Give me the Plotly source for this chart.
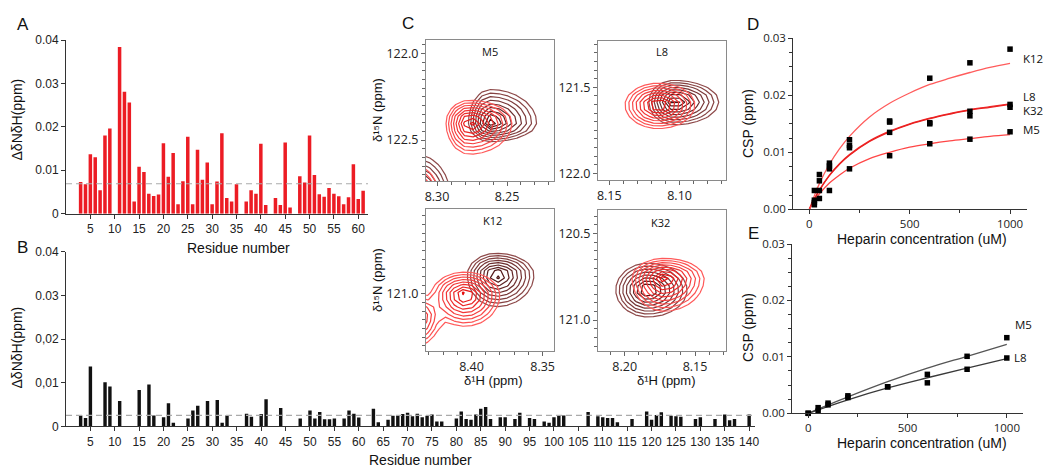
import numpy as np
import plotly.graph_objects as go

W, H = 1043, 467

# ---------------- Panel A : CSP per residue (heparin, red) ----------------
residues_A = [3, 4, 5, 6, 7, 8, 9,
              11, 12, 13, 14, 15, 16, 17, 18, 19, 20, 21, 22, 23, 24, 25, 26, 27, 28, 29, 30,
              31, 32, 33, 34, 35, 37, 38, 39, 40, 41, 43, 44, 45, 46,
              48, 49, 50, 51, 52, 53, 54, 55, 56, 57, 58, 59, 60, 61]
csp_A = [0.0073, 0.0068, 0.0137, 0.0130, 0.0054, 0.0180, 0.0196,
         0.0384, 0.0281, 0.0256, 0.0028, 0.0108, 0.0096, 0.0046, 0.0041, 0.0044, 0.0162, 0.0085,
         0.0140, 0.0022, 0.0075, 0.0177, 0.0022, 0.0147, 0.0078, 0.0118, 0.0022,
         0.0074, 0.0185, 0.0036, 0.0028, 0.0068, 0.0028, 0.0054, 0.0046, 0.0161, 0.0020,
         0.0036, 0.0020, 0.0164, 0.0014,
         0.0086, 0.0072, 0.0180, 0.0089, 0.0045, 0.0039, 0.0059, 0.0046, 0.0040, 0.0022,
         0.0038, 0.0114, 0.0034, 0.0053]
threshold_A = 0.0069
ticks_A = list(range(5, 61, 5))

# ---------------- Panel B : CSP per residue (black) ----------------
residues_B = [3, 4, 5, 8, 9, 11, 15, 17, 18, 20, 21, 22, 25, 26, 27, 29, 31, 32, 33,
              37, 38, 40, 41, 44, 48, 50, 51, 52, 53, 54, 55, 57, 58, 59, 60,
              63, 64, 66, 67, 68, 69, 70, 71, 72, 73, 74, 75, 76, 77,
              80, 81, 82, 83, 84, 85, 86, 87, 89, 90, 92, 93, 95, 96, 98, 99,
              100, 101, 102, 107, 109, 110, 111, 112, 113, 116,
              119, 120, 121, 122, 124, 125, 126, 129, 130, 133, 135, 136, 137, 140]
csp_B = [0.0025, 0.0019, 0.0137, 0.0101, 0.0091, 0.0058, 0.0083, 0.0096, 0.0025, 0.0021,
         0.0053, 0.0008, 0.0018, 0.0036, 0.0047, 0.0058, 0.0060, 0.0008, 0.0025,
         0.0029, 0.0022, 0.0028, 0.0062, 0.0042, 0.0018, 0.0036, 0.0018, 0.0033, 0.0016,
         0.0016, 0.0018, 0.0018, 0.0036, 0.0029, 0.0020,
         0.0040, 0.0009, 0.0015, 0.0024, 0.0024, 0.0028, 0.0031, 0.0023, 0.0029, 0.0021,
         0.0024, 0.0027, 0.0011, 0.0011,
         0.0018, 0.0034, 0.0017, 0.0015, 0.0027, 0.0040, 0.0044, 0.0017, 0.0021, 0.0021,
         0.0017, 0.0031, 0.0019, 0.0017, 0.0011, 0.0008,
         0.0021, 0.0025, 0.0025, 0.0033, 0.0023, 0.0021, 0.0019, 0.0019, 0.0009, 0.0017,
         0.0034, 0.0015, 0.0026, 0.0032, 0.0024, 0.0023, 0.0022, 0.0017, 0.0021, 0.0017,
         0.0027, 0.0014, 0.0017, 0.0027]
threshold_B = 0.0025
ticks_B = list(range(5, 141, 5))

# ---------------- Panel C : HSQC peaks ----------------
# (x0 1H ppm, y0 15N ppm, sx_high_ppm_side, sx_low_ppm_side, sy_top, sy_bottom, amplitude)
peaks_M5_free = [(8.262, 122.40, 0.0060, 0.0128, 0.074, 0.042, 1.0),
                 (8.3155, 122.815, 0.0095, 0.0095, 0.090, 0.090, 1.0)]
peaks_M5_bound = [(8.277, 122.40, 0.0064, 0.0118, 0.050, 0.070, 1.0),
                  (8.320, 122.840, 0.0085, 0.0085, 0.080, 0.080, 1.0)]
peaks_L8_free = [(8.104, 121.584, 0.0069, 0.0123, 0.048, 0.052, 1.0)]
peaks_L8_bound = [(8.115, 121.603, 0.0092, 0.0100, 0.049, 0.053, 1.0)]
peaks_K12_free = [(8.3825, 120.89, 0.0079, 0.0102, 0.048, 0.071, 1.0)]
peaks_K12_bound = [(8.4047, 121.006, 0.0090, 0.0095, 0.051, 0.070, 1.0),
                   (8.442, 121.13, 0.0080, 0.0080, 0.050, 0.070, 0.9)]
peaks_K32_free = [(8.1836, 120.827, 0.0088, 0.0108, 0.060, 0.060, 1.0)]
peaks_K32_bound = [(8.172, 120.760, 0.0088, 0.0110, 0.045, 0.073, 1.0)]

# ---------------- Panel D : titration ----------------
conc_D = [25, 50, 100, 200, 400, 600, 800, 1000]
csp_D_K12 = [0.0033, 0.0061, 0.0081, 0.0122, 0.0155, 0.0230, 0.0257, 0.0281]
csp_D_L8 = [0.0016, 0.0050, 0.0076, 0.0112, 0.0153, 0.0152, 0.0172, 0.0184]
csp_D_K32 = [0.0012, 0.0033, 0.0071, 0.0108, 0.0135, 0.0150, 0.0164, 0.0179]
csp_D_M5 = [0.0008, 0.0019, 0.0033, 0.0071, 0.0094, 0.0115, 0.0123, 0.0136]
fit_conc_D = [0, 25, 50, 100, 150, 200, 300, 400, 500, 600, 700, 800, 900, 1000]
fit_D_K12 = [0, 0.0024, 0.0045, 0.0079, 0.0106, 0.0128, 0.0162, 0.0186, 0.0204, 0.0219,
             0.0230, 0.0240, 0.0249, 0.0256]
fit_D_L8 = [0, 0.0018, 0.0034, 0.0060, 0.0080, 0.0096, 0.0120, 0.0137, 0.0150, 0.0160,
            0.0168, 0.0175, 0.0180, 0.0185]
fit_D_K32 = [0, 0.0018, 0.0033, 0.0059, 0.0079, 0.0095, 0.0119, 0.0136, 0.0149, 0.0159,
             0.0167, 0.0174, 0.0179, 0.0184]
fit_D_M5 = [0, 0.0015, 0.0027, 0.0046, 0.0060, 0.0072, 0.0089, 0.0100, 0.0109, 0.0115,
            0.0120, 0.0124, 0.0128, 0.0131]

# ---------------- Panel E ----------------
conc_E = [0, 50, 100, 200, 400, 600, 800, 1000]
csp_E_M5 = [0, 0.0010, 0.0018, 0.0031, 0.0047, 0.0069, 0.0101, 0.0134]
csp_E_L8 = [0, 0.0004, 0.0015, 0.0028, 0.0047, 0.0054, 0.0078, 0.0098]
fit_conc_E = [0, 200, 400, 600, 800, 1000]
fit_E_M5 = [0, 0.0029, 0.0056, 0.0080, 0.0101, 0.0122]
fit_E_L8 = [0, 0.0024, 0.0045, 0.0063, 0.0080, 0.0097]

# ============================================================
FA = "Liberation Sans, Arial, sans-serif"
FC = "Open Sans, Noto Sans, sans-serif"
RED = "#EC1C24"
DARK_CS = [[0, "#4a1212"], [1, "#8e4a4a"]]
RED_CS = [[0, "#e41010"], [1, "#ff5a5a"]]


def xd(a, b):
    return [a / W, b / W]


def yd(top, bottom):
    return [1 - bottom / H, 1 - top / H]


def P(px, py):
    return px / W, 1 - py / H


fig = go.Figure()

# ---- A bars
fig.add_trace(go.Bar(x=residues_A, y=csp_A, width=0.72, marker=dict(color=RED, line=dict(width=0)),
                     xaxis="x", yaxis="y", showlegend=False))
fig.add_trace(go.Scatter(x=[0, 62], y=[threshold_A, threshold_A], mode="lines",
                         line=dict(color="#aaaaaa", width=1.2, dash="6px,4px"),
                         xaxis="x", yaxis="y", showlegend=False, hoverinfo="skip"))
# ---- B bars
fig.add_trace(go.Bar(x=residues_B, y=csp_B, width=0.7, marker=dict(color="#111111", line=dict(width=0)),
                     xaxis="x2", yaxis="y2", showlegend=False))
fig.add_trace(go.Scatter(x=[0, 141.2], y=[threshold_B, threshold_B], mode="lines",
                         line=dict(color="#aaaaaa", width=1.2, dash="6px,4px"),
                         xaxis="x2", yaxis="y2", showlegend=False, hoverinfo="skip"))

# ---- C contours
c_panels = [
    ("x3", "y3", (8.3079, 8.2164), (122.736, 121.923), peaks_M5_free, peaks_M5_bound),
    ("x4", "y4", (8.158, 8.067), (122.039, 121.231), peaks_L8_free, peaks_L8_bound),
    ("x5", "y5", (8.432, 8.342), (121.33, 120.51), peaks_K12_free, peaks_K12_bound),
    ("x6", "y6", (8.219, 8.128), (121.177, 120.362), peaks_K32_free, peaks_K32_bound),
]


def peak_field(xg, yg, peaks):
    X, Y = np.meshgrid(xg, yg)
    Z = np.zeros_like(X)
    for (x0, y0, sxh, sxl, syt, syb, a) in peaks:
        dx = X - x0
        dy = Y - y0
        sx = np.where(dx > 0, sxh, sxl)
        sy = np.where(dy < 0, syt, syb)
        Z += a * np.exp(-0.5 * ((dx / sx) ** 2 + (dy / sy) ** 2))
    Z = np.clip(Z, 1e-12, None)
    return np.sqrt(np.clip(2 * np.log(1.0 / Z), 0, None))


for xa, ya, xr, yr, pf, pb in c_panels:
    xg = np.arange(min(xr) - 0.06, max(xr) + 0.06, 0.0062)
    yg = np.arange(min(yr) - 0.4, max(yr) + 0.4, 0.042)
    for peaks, cs in ((pf, DARK_CS), (pb, RED_CS)):
        fig.add_trace(go.Contour(x=xg, y=yg, z=peak_field(xg, yg, peaks),
                                 contours=dict(start=0.35, end=2.6, size=0.28, coloring="lines"),
                                 colorscale=cs, zmin=0.35, zmax=2.6, zauto=False,
                                 line=dict(width=1.2, smoothing=0), showscale=False,
                                 xaxis=xa, yaxis=ya, hoverinfo="skip"))

# ---- D
for fy, col in ((fit_D_K12, "#ff5c5c"), (fit_D_L8, "#f02a2a"), (fit_D_K32, "#ea2020"), (fit_D_M5, "#ff4646")):
    fig.add_trace(go.Scatter(x=fit_conc_D, y=fy, mode="lines", line=dict(color=col, width=1.3, shape="spline"),
                             xaxis="x7", yaxis="y7", showlegend=False, hoverinfo="skip"))
for vals in (csp_D_K12, csp_D_L8, csp_D_K32, csp_D_M5):
    fig.add_trace(go.Scatter(x=conc_D, y=vals, mode="markers",
                             marker=dict(symbol="square", size=5.5, color="black"),
                             xaxis="x7", yaxis="y7", showlegend=False, cliponaxis=False))
# ---- E
for fy, col in ((fit_E_M5, "#555555"), (fit_E_L8, "#3a3a3a")):
    fig.add_trace(go.Scatter(x=fit_conc_E, y=fy, mode="lines", line=dict(color=col, width=1.3, shape="spline"),
                             xaxis="x8", yaxis="y8", showlegend=False, hoverinfo="skip"))
for vals in (csp_E_M5, csp_E_L8):
    fig.add_trace(go.Scatter(x=conc_E, y=vals, mode="markers",
                             marker=dict(symbol="square", size=5.5, color="black"),
                             xaxis="x8", yaxis="y8", showlegend=False, cliponaxis=False))

# ============ axes ============
common_ab = dict(showline=True, linecolor="#333", linewidth=1, ticks="outside", ticklen=4,
                 tickcolor="#333", showgrid=False, zeroline=False, automargin=False,
                 tickfont=dict(family=FA, size=12, color="#222"))
lay = {}
lay["xaxis"] = dict(common_ab, domain=xd(66, 368), range=[0, 62], anchor="y",
                    tickmode="array", tickvals=ticks_A)
lay["yaxis"] = dict(common_ab, domain=yd(40, 213.7), range=[0, 0.04], anchor="x",
                    tickmode="array", tickvals=[0, 0.01, 0.02, 0.03, 0.04],
                    ticktext=["0", "0.01", "0.02", "0.03", "0.04"])
lay["xaxis2"] = dict(common_ab, domain=xd(66, 755), range=[0, 141.2], anchor="y2",
                     tickmode="array", tickvals=ticks_B)
lay["yaxis2"] = dict(common_ab, domain=yd(251.7, 426.3), range=[0, 0.04], anchor="x2",
                     tickmode="array", tickvals=[0, 0.01, 0.02, 0.03, 0.04],
                     ticktext=["0", "0,01", "0,02", "0.03", "0.04"])

c_dom = [(xd(426, 554), yd(40, 181)), (xd(598, 726), yd(41, 180)),
         (xd(426, 554), yd(209, 351)), (xd(598, 726), yd(209.5, 350.7))]
common_c = dict(showline=True, mirror=True, linecolor="#8a8a8a", linewidth=1.3, ticks="outside",
                ticklen=4, tickcolor="#666", showgrid=False, zeroline=False, automargin=False,
                tickfont=dict(family=FC, size=12.5, color="#222"))
for i, (xa, ya, xr, yr, pf, pb) in enumerate(c_panels):
    n = i + 3
    lay[f"xaxis{n}"] = dict(common_c, domain=c_dom[i][0], range=list(xr), anchor=f"y{n}",
                            tickmode="linear", tick0=8.0, dtick=0.05, tickformat=".2f",
                            minor=dict(ticks="outside", ticklen=3, tickcolor="#666", dtick=0.01, tick0=8.0))
    lay[f"yaxis{n}"] = dict(common_c, domain=c_dom[i][1], range=list(yr), anchor=f"x{n}",
                            tickmode="linear", tick0=120.0, dtick=0.5, tickformat=".1f",
                            minor=dict(ticks="outside", ticklen=3, tickcolor="#666", dtick=0.05, tick0=120.0))

common_de = dict(showline=True, linecolor="#333", linewidth=1.1, ticks="outside", ticklen=4,
                 tickcolor="#333", showgrid=False, zeroline=False, automargin=False,
                 tickfont=dict(family=FC, size=11.5, color="#222"))
lay["xaxis7"] = dict(common_de, domain=xd(793.3, 1026.7), range=[-80, 1083], anchor="y7",
                     tickmode="array", tickvals=[0, 500, 1000],
                     minor=dict(ticks="outside", ticklen=3, tickcolor="#333", tickvals=[250, 750]))
lay["yaxis7"] = dict(common_de, domain=yd(38.3, 209.3), range=[0, 0.03], anchor="x7",
                     tickmode="linear", tick0=0, dtick=0.01, tickformat=".2f",
                     minor=dict(ticks="outside", ticklen=3, tickcolor="#333", dtick=0.0025, tick0=0))
lay["xaxis8"] = dict(common_de, domain=xd(792.3, 1023.3), range=[-80, 1083], anchor="y8",
                     tickmode="array", tickvals=[0, 500, 1000],
                     minor=dict(ticks="outside", ticklen=3, tickcolor="#333", tickvals=[250, 750]))
lay["yaxis8"] = dict(common_de, domain=yd(244, 413.3), range=[0, 0.03], anchor="x8",
                     tickmode="linear", tick0=0, dtick=0.01, tickformat=".2f",
                     minor=dict(ticks="outside", ticklen=3, tickcolor="#333", dtick=0.0025, tick0=0))

# ============ annotations ============
ann = []


def add(text, px, py, size, family=FA, angle=0, xanchor="center", color="#111"):
    x, y = P(px, py)
    ann.append(dict(text=text, x=x, y=y, xref="paper", yref="paper", showarrow=False,
                    xanchor=xanchor, yanchor="middle", textangle=angle,
                    font=dict(family=family, size=size, color=color)))


add("A", 23, 25, 17)
add("B", 22, 247, 17)
add("C", 408, 23, 17)
add("D", 753, 25, 17)
add("E", 753, 233, 17)
add("ΔδNδH(ppm)", 16.5, 120, 14, angle=-90)
add("ΔδNδH(ppm)", 16.5, 348, 14, angle=-90)
add("Residue number", 238, 248, 14)
add("Residue number", 420, 460, 14)
add("δ¹⁵N (ppm)", 377, 110, 13, family=FA, angle=-90)
add("δ¹⁵N (ppm)", 377, 280, 13, family=FA, angle=-90)
add("δ¹H (ppm)", 493, 380, 13, family=FA)
add("δ¹H (ppm)", 666, 380, 13, family=FA)
add("M5", 490, 51, 11, family=FC)
add("L8", 662, 52, 11, family=FC)
add("K12", 492, 220, 11, family=FC)
add("K32", 660, 222, 11, family=FC)
add("CSP (ppm)", 748, 124, 14, family=FA, angle=-90)
add("CSP (ppm)", 748, 328, 14, family=FA, angle=-90)
add("Heparin concentration (uM)", 922, 239, 14, family=FA)
add("Heparin concentration (uM)", 922, 443, 14, family=FA)
add("K12", 1021, 58, 11.5, family=FC, xanchor="left")
add("L8", 1021, 96, 11.5, family=FC, xanchor="left")
add("K32", 1021, 110.5, 11.5, family=FC, xanchor="left")
add("M5", 1021, 129.5, 11.5, family=FC, xanchor="left")
add("M5", 1013, 324, 11.5, family=FC, xanchor="left")
add("L8", 1012, 357, 11.5, family=FC, xanchor="left")

fig.update_layout(width=W, height=H, margin=dict(l=0, r=0, t=0, b=0), template="none",
                  paper_bgcolor="white", plot_bgcolor="rgba(0,0,0,0)",
                  font=dict(family=FA, size=12, color="#222"),
                  annotations=ann, showlegend=False, **lay)
fig.write_html("out.html")
